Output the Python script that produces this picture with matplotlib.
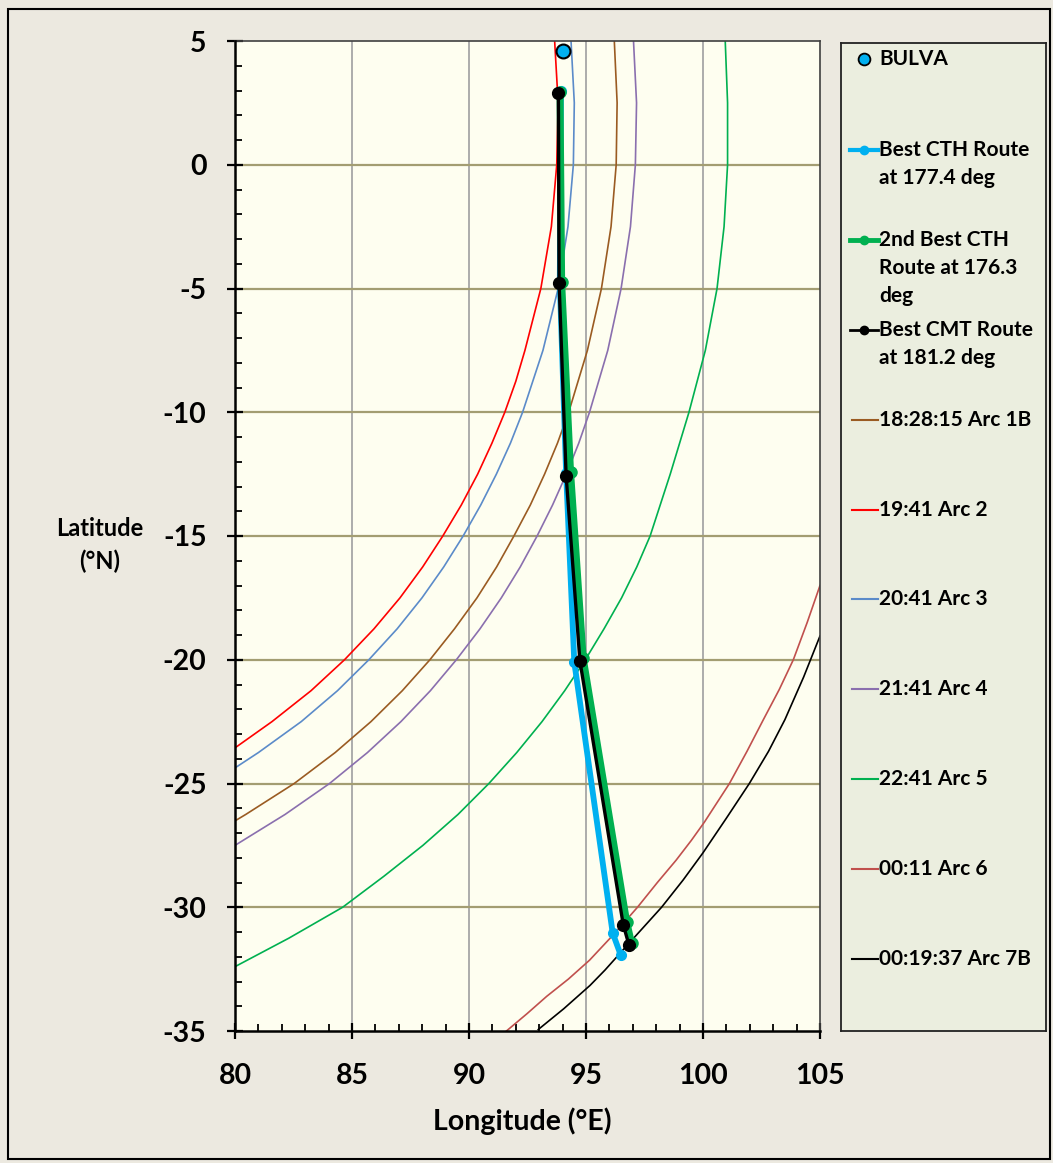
import matplotlib.pyplot as plt
from matplotlib.patches import Rectangle
from matplotlib.ticker import MultipleLocator

plt.rcParams['font.family'] = ['Lato', 'DejaVu Sans']
plt.rcParams['font.weight'] = 'bold'
plt.rcParams['axes.unicode_minus'] = False

# ping arcs (lon, lat)
arc1b_lat = [5.0, 2.5, 0.0, -2.5, -5.0, -7.5, -10.0, -11.25, -12.5, -13.75, -15.0, -16.25, -17.5, -18.75,
             -20.0, -21.25, -22.5, -23.75, -25.0, -26.25, -26.51]
arc1b_lon = [96.21, 96.33, 96.29, 96.07, 95.66, 95.06, 94.26, 93.78, 93.23, 92.62, 91.92, 91.18, 90.34, 89.38,
             88.33, 87.15, 85.81, 84.28, 82.53, 80.46, 80.0]
arc2_lat = [5.0, 2.5, 0.0, -2.5, -5.0, -7.5, -8.75, -10.0, -11.25, -12.5, -13.75, -15.0, -16.25, -17.5,
            -18.75, -20.0, -21.25, -22.5, -23.56]
arc2_lon = [93.66, 93.81, 93.75, 93.52, 93.07, 92.39, 92.0, 91.53, 90.98, 90.37, 89.67, 88.88, 88.02, 87.05,
            85.94, 84.68, 83.25, 81.58, 80.0]
arc3_lat = [5.0, 2.5, 0.0, -2.5, -5.0, -7.5, -10.0, -11.25, -12.5, -13.75, -15.0, -16.25, -17.5, -18.75,
            -20.0, -21.25, -22.5, -23.75, -24.37]
arc3_lon = [94.36, 94.5, 94.46, 94.23, 93.81, 93.16, 92.29, 91.77, 91.17, 90.5, 89.75, 88.92, 87.99, 86.93,
            85.72, 84.38, 82.83, 81.0, 80.0]
arc4_lat = [5.0, 2.5, 0.0, -2.5, -5.0, -7.5, -10.0, -11.25, -12.5, -13.75, -15.0, -16.25, -17.5, -18.75,
            -20.0, -21.25, -22.5, -23.75, -25.0, -26.25, -27.5]
arc4_lon = [97.03, 97.16, 97.11, 96.9, 96.5, 95.93, 95.15, 94.69, 94.16, 93.57, 92.91, 92.19, 91.38, 90.47,
            89.46, 88.35, 87.09, 85.66, 84.04, 82.14, 80.0]
arc5_lat = [5.0, 2.5, 0.0, -2.5, -5.0, -7.5, -10.0, -12.5, -15.0, -16.25, -17.5, -18.75, -20.0, -21.25,
            -22.5, -23.75, -25.0, -26.25, -27.5, -28.75, -30.0, -31.25, -32.4]
arc5_lon = [100.95, 101.05, 101.05, 100.9, 100.6, 100.1, 99.4, 98.6, 97.74, 97.17, 96.52, 95.77, 94.97, 94.09,
            93.12, 92.04, 90.85, 89.53, 88.03, 86.36, 84.6, 82.3, 80.0]
arc6_lat = [-17.0, -18.5, -20.0, -21.2, -22.42, -23.7, -25.0, -26.56, -27.3, -28.1, -29.0, -30.0, -31.1,
            -32.14, -32.9, -33.6, -34.3, -35.0]
arc6_lon = [105.0, 104.45, 103.86, 103.26, 102.58, 101.88, 101.13, 100.06, 99.5, 98.85, 98.05, 97.2, 96.18,
            95.15, 94.25, 93.32, 92.48, 91.6]
arc7b_lat = [-19.04, -20.7, -22.42, -23.7, -25.0, -26.4, -27.8, -28.9, -30.0, -31.6, -32.54, -33.16, -34.1,
             -34.94]
arc7b_lon = [105.0, 104.3, 103.5, 102.8, 101.98, 101.0, 100.0, 99.15, 98.23, 96.7, 95.81, 95.17, 94.05,
             92.96]

# candidate routes (lon, lat)
cth_lon = [93.93, 93.88, 94.15, 94.5, 96.14, 96.48]
cth_lat = [3.0, -4.75, -12.45, -20.1, -31.04, -31.92]
cth2_lon = [93.89, 93.96, 94.34, 94.88, 96.74, 96.95]
cth2_lat = [2.95, -4.75, -12.4, -19.94, -30.6, -31.46]
cmt_lon = [93.82, 93.85, 94.15, 94.74, 96.59, 96.84]
cmt_lat = [2.89, -4.79, -12.56, -20.05, -30.7, -31.54]

bulva_lon = [94.03]
bulva_lat = [4.6]

arc_labels = ['18:28:15 Arc 1B', '19:41 Arc 2', '20:41 Arc 3', '21:41 Arc 4',
              '22:41 Arc 5', '00:11 Arc 6', '00:19:37 Arc 7B']
arc_colors = ['#9A5B22', '#FF0000', '#5B8BC9', '#8A6FAE', '#00B050', '#C0504D', '#000000']
arcs = [(arc1b_lon, arc1b_lat), (arc2_lon, arc2_lat), (arc3_lon, arc3_lat), (arc4_lon, arc4_lat),
        (arc5_lon, arc5_lat), (arc6_lon, arc6_lat), (arc7b_lon, arc7b_lat)]

W, H = 1053, 1163


def px_rect(x0, y0, x1, y1):
    return [x0 / W, 1 - y1 / H, (x1 - x0) / W, (y1 - y0) / H]


fig = plt.figure(figsize=(W / 100, H / 100), dpi=100, facecolor='#ECE9E0')
fig.patches.append(Rectangle((8 / W, 1 - 1159 / H), 1042 / W, 1150 / H, transform=fig.transFigure,
                             fill=False, edgecolor='black', linewidth=1.5))

ax = fig.add_axes(px_rect(235, 41, 820, 1031))
ax.set_facecolor('#FEFEF0')
ax.set_xlim(80, 105)
ax.set_ylim(-35, 5)

for x in [85, 90, 95, 100]:
    ax.axvline(x, color='#A6A6A6', linewidth=1.3, zorder=0)
for y in range(-30, 5, 5):
    ax.axhline(y, color='#A39D72', linewidth=1.6, zorder=0)

for (lo, la), c in zip(arcs, arc_colors):
    ax.plot(lo, la, color=c, linewidth=1.2, zorder=2, solid_joinstyle='round')

ax.plot(cth_lon, cth_lat, color='#00B0F0', linewidth=4.2, marker='o', markersize=7, zorder=3)
ax.plot(cth2_lon, cth2_lat, color='#00B050', linewidth=5, marker='o', markersize=8, zorder=4)
ax.plot(cmt_lon, cmt_lat, color='black', linewidth=2.4, marker='o', markersize=8.5, zorder=5)
ax.plot(bulva_lon, bulva_lat, linestyle='none', marker='o', markersize=10, markerfacecolor='#00B0F0',
        markeredgecolor='black', markeredgewidth=1.5, zorder=6, clip_on=False)

ax.xaxis.set_major_locator(MultipleLocator(5))
ax.xaxis.set_minor_locator(MultipleLocator(1))
ax.yaxis.set_major_locator(MultipleLocator(5))
ax.yaxis.set_minor_locator(MultipleLocator(1))
ax.tick_params(which='major', direction='inout', length=12, width=1.6, labelsize=20.5)
ax.tick_params(which='minor', direction='in', length=5, width=1.3)
ax.tick_params(axis='x', which='major', pad=17)
ax.tick_params(axis='y', which='major', pad=14.5)
for s in ['left', 'bottom']:
    ax.spines[s].set_linewidth(1.8)
    ax.spines[s].set_zorder(7)
for s in ['top', 'right']:
    ax.spines[s].set_color('#404040')
    ax.spines[s].set_linewidth(1.2)

fig.text(100 / W, 1 - 545 / H, 'Latitude\n(°N)', ha='center', va='center', fontsize=17,
         fontweight='bold', linespacing=1.45)
fig.text(522 / W, 1 - 1121 / H, 'Longitude (°E)', ha='center', va='center', fontsize=20.5,
         fontweight='bold')

# legend panel
lg = fig.add_axes(px_rect(841, 43, 1046, 1031))
lg.set_facecolor('#EBEEDF')
lg.set_xlim(841, 1046)
lg.set_ylim(1031, 43)
lg.set_xticks([])
lg.set_yticks([])
for s in lg.spines.values():
    s.set_linewidth(1.3)
    s.set_color('#222222')

tx = 879
fs = 15
lg.plot([864], [59], linestyle='none', marker='o', markersize=8.5, markerfacecolor='#00B0F0',
        markeredgecolor='black', markeredgewidth=1.3)
lg.text(tx, 59, 'BULVA', va='center', fontsize=fs)

route_entries = [
    ('#00B0F0', 3, ['Best CTH Route', 'at 177.4 deg'], 150),
    ('#00B050', 3.5, ['2nd Best CTH', 'Route at 176.3', 'deg'], 240),
    ('black', 2, ['Best CMT Route', 'at 181.2 deg'], 330),
]
for c, lw, lines, y0 in route_entries:
    lg.plot([850, 878], [y0, y0], color=c, linewidth=lw)
    lg.plot([864], [y0], color=c, marker='o', markersize=6)
    for i, t in enumerate(lines):
        lg.text(tx, y0 + i * 28, t, va='center', fontsize=fs)

arc_ys = [420, 510, 599, 689, 779, 869, 959]
for lab, c, y0 in zip(arc_labels, arc_colors, arc_ys):
    lg.plot([852, 878], [y0, y0], color=c, linewidth=1.5)
    lg.text(tx, y0, lab, va='center', fontsize=fs)

fig.savefig('out.png', dpi=100, facecolor=fig.get_facecolor())
